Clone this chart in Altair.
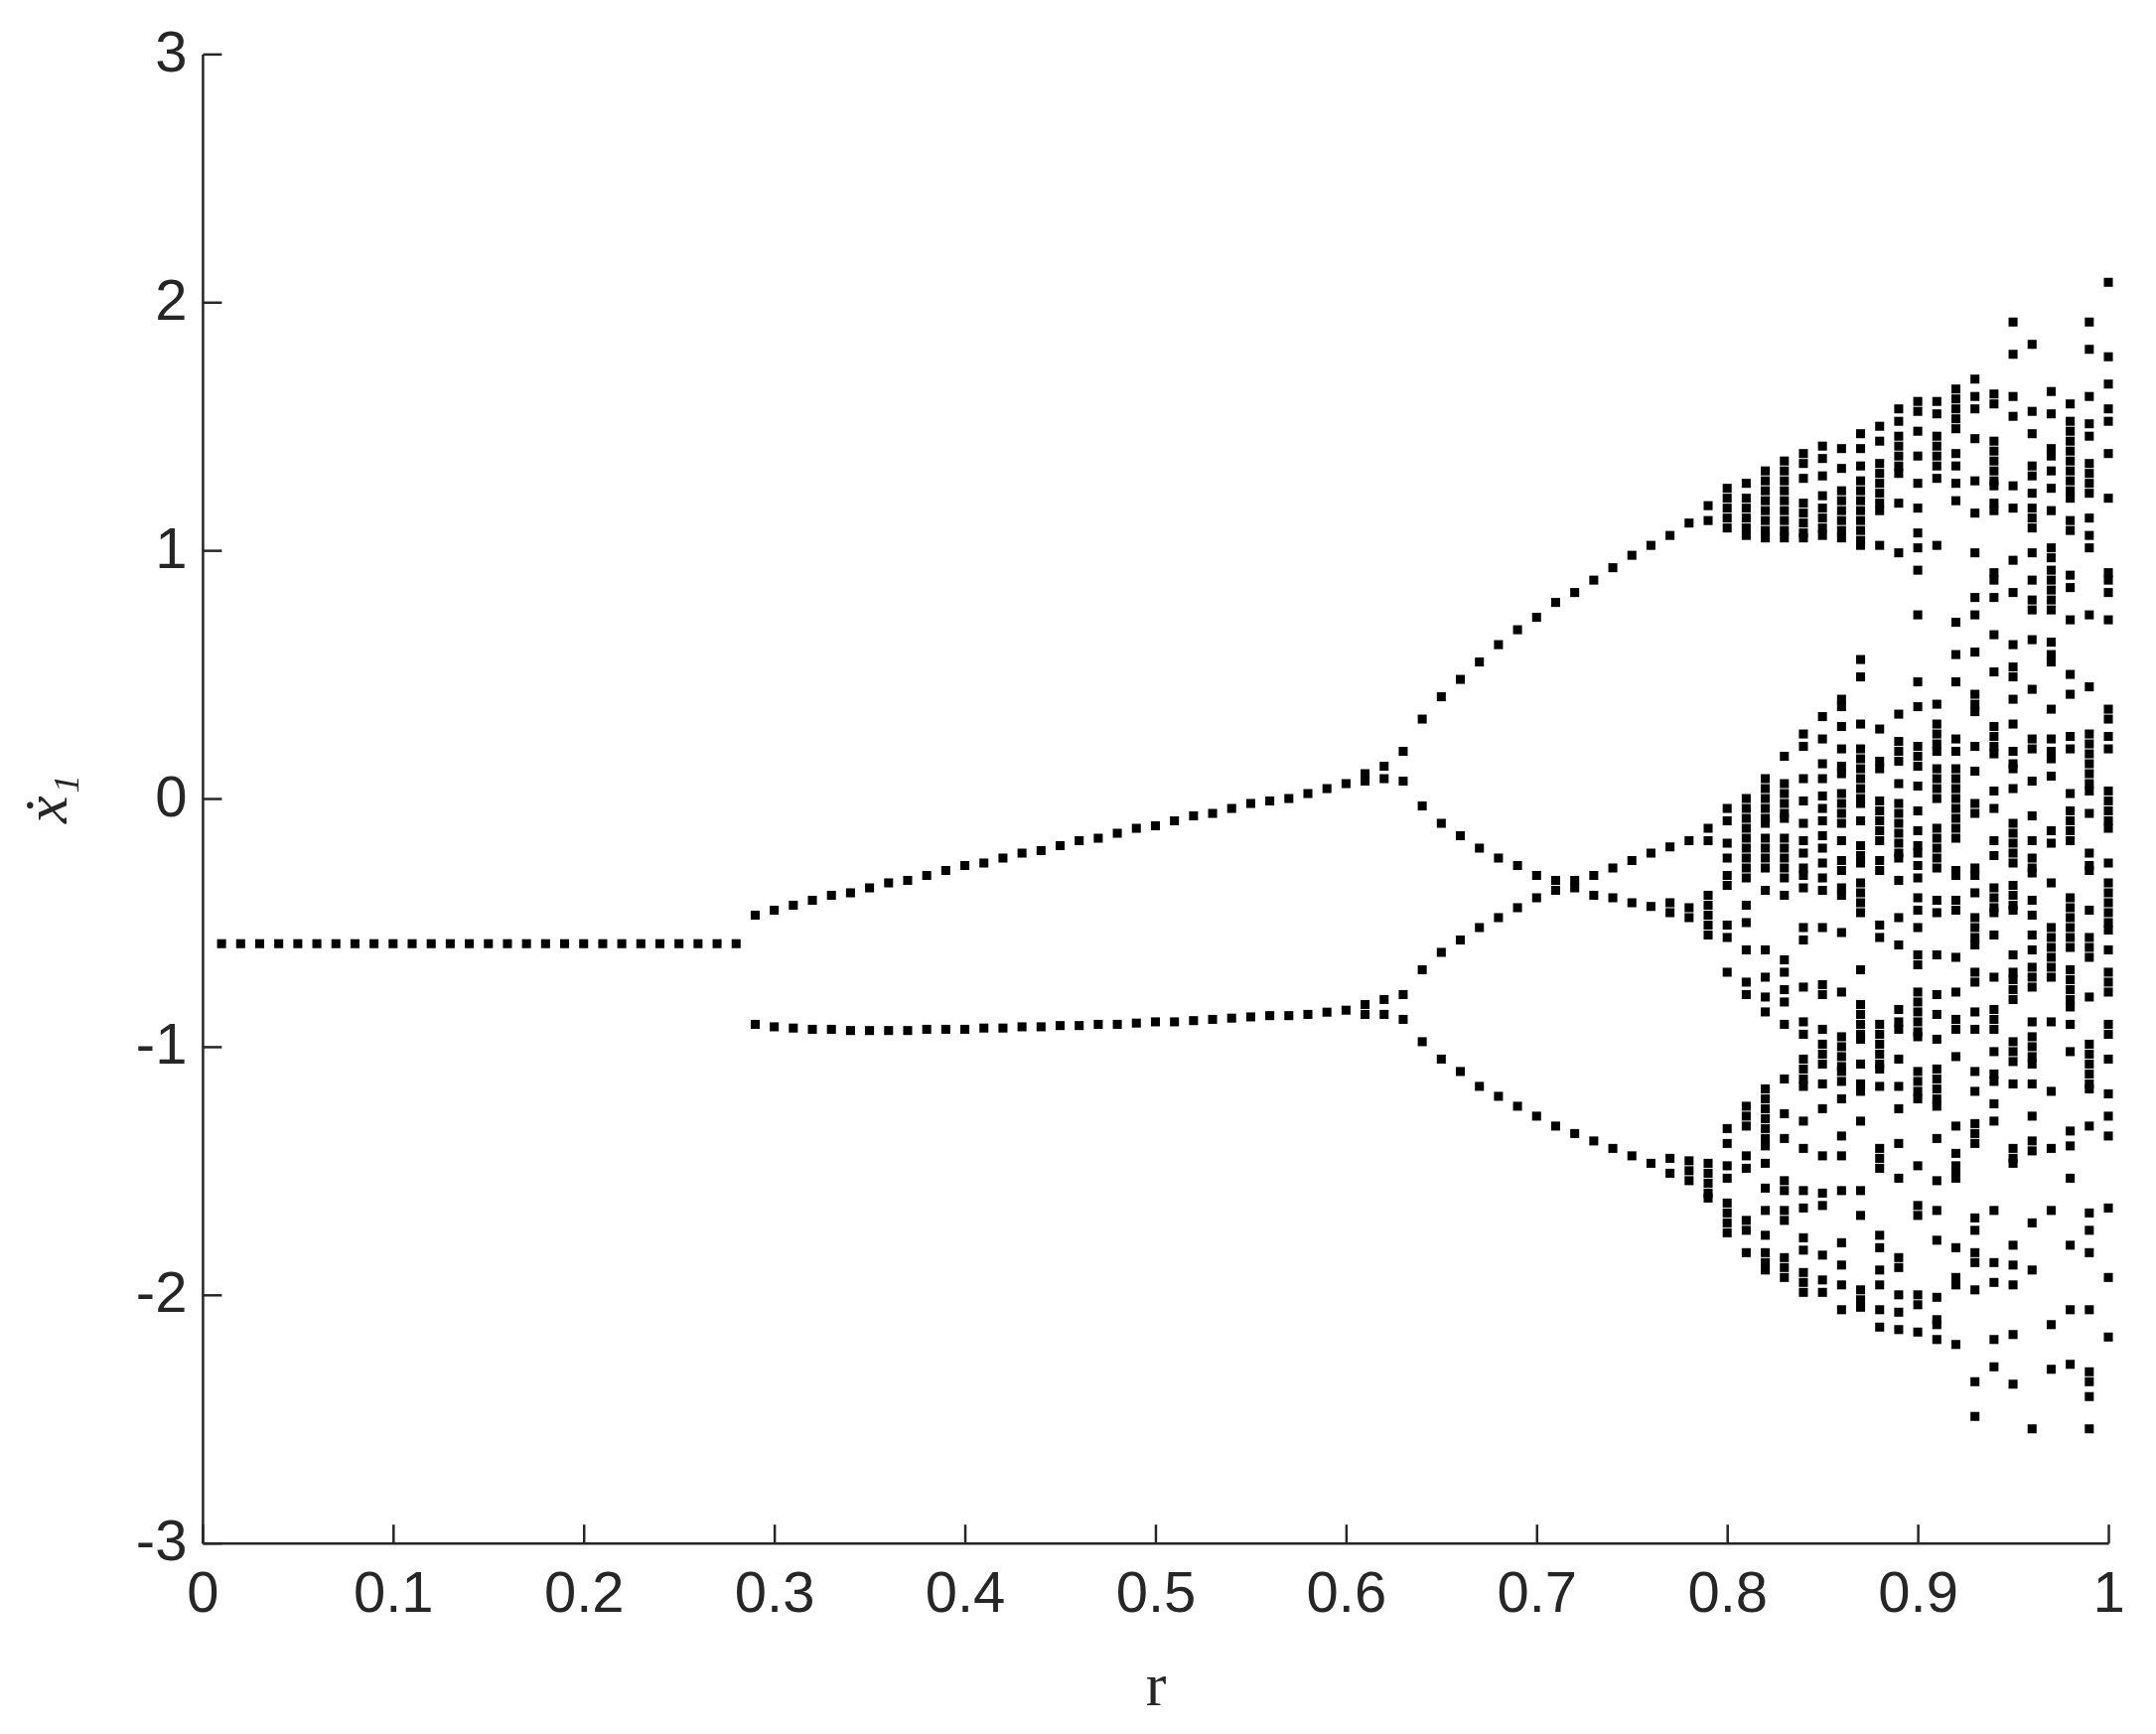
import altair as alt
import pandas as pd

# ---------------- data ----------------
# period-1 region
r_period1 = [0.01, 0.02, 0.03, 0.04, 0.05, 0.06, 0.07, 0.08, 0.09, 0.10,
             0.11, 0.12, 0.13, 0.14, 0.15, 0.16, 0.17, 0.18, 0.19, 0.20,
             0.21, 0.22, 0.23, 0.24, 0.25, 0.26, 0.27, 0.28]
x1_period1 = [-0.585, -0.585, -0.585, -0.585, -0.585, -0.585, -0.585, -0.585, -0.585, -0.585,
              -0.585, -0.585, -0.585, -0.585, -0.585, -0.585, -0.585, -0.585, -0.585, -0.585,
              -0.585, -0.585, -0.585, -0.585, -0.585, -0.585, -0.585, -0.585]

# period-2 region
r_period2 = [0.29, 0.30, 0.31, 0.32, 0.33, 0.34, 0.35, 0.36, 0.37, 0.38,
             0.39, 0.40, 0.41, 0.42, 0.43, 0.44, 0.45, 0.46, 0.47, 0.48,
             0.49, 0.50, 0.51, 0.52, 0.53, 0.54, 0.55, 0.56, 0.57, 0.58,
             0.59, 0.60]
x1_period2_upper = [-0.47, -0.45, -0.43, -0.41, -0.39, -0.38, -0.36, -0.34, -0.33, -0.31,
                    -0.29, -0.27, -0.26, -0.24, -0.22, -0.21, -0.19, -0.17, -0.16, -0.14,
                    -0.12, -0.11, -0.09, -0.07, -0.06, -0.04, -0.02, -0.01, 0.00, 0.02,
                    0.04, 0.06]
x1_period2_lower = [-0.91, -0.92, -0.925, -0.93, -0.93, -0.935, -0.935, -0.935, -0.935, -0.93,
                    -0.93, -0.93, -0.925, -0.925, -0.92, -0.92, -0.915, -0.915, -0.91, -0.91,
                    -0.905, -0.90, -0.90, -0.895, -0.89, -0.885, -0.88, -0.875, -0.875, -0.87,
                    -0.861, -0.853]

# period-4 and chaotic region: one list of x1-dot values per r column
r_columns = [0.61, 0.62, 0.63, 0.64, 0.65, 0.66, 0.67, 0.68, 0.69, 0.70,
             0.71, 0.72, 0.73, 0.74, 0.75, 0.76, 0.77, 0.78, 0.79, 0.80,
             0.81, 0.82, 0.83, 0.84, 0.85, 0.86, 0.87, 0.88, 0.89, 0.90,
             0.91, 0.92, 0.93, 0.94, 0.95, 0.96, 0.97, 0.98, 0.99, 1.00]
x1_columns = [
    [0.07, 0.10, -0.83, -0.87],
    [0.08, 0.13, -0.81, -0.87],
    [0.19, 0.07, -0.79, -0.89],
    [0.32, -0.03, -0.69, -0.98],
    [0.41, -0.10, -0.62, -1.05],
    [0.48, -0.15, -0.57, -1.10],
    [0.55, -0.20, -0.52, -1.16],
    [0.62, -0.24, -0.48, -1.20],
    [0.68, -0.27, -0.44, -1.24],
    [0.73, -0.31, -0.40, -1.28],
    [0.79, -0.33, -0.37, -1.32],
    [0.83, -0.33, -0.36, -1.35],
    [0.88, -0.31, -0.39, -1.38],
    [0.93, -0.28, -0.40, -1.41],
    [0.98, -0.25, -0.42, -1.44],
    [1.02, -0.22, -0.435, -1.47],
    [1.06, -0.195, -0.42, -0.46, -1.45, -1.51],
    [1.11, -0.17, -0.44, -0.48, -1.46, -1.50, -1.54],
    [1.18, 1.12, -0.12, -0.17, -0.39, -0.43, -0.47, -0.51, -0.55,
     -1.47, -1.51, -1.55, -1.59, -1.61],
    # 0.80
    [1.25, 1.21, 1.17, 1.13, 1.09, -0.04, -0.09, -0.18, -0.24, -0.31, -0.35,
     -0.51, -0.56, -0.70, -1.33, -1.39, -1.48, -1.53, -1.63, -1.67, -1.71, -1.75],
    # 0.81
    [1.27, 1.21, 1.17, 1.13, 1.09, 1.06, 0.00, -0.04, -0.08, -0.12, -0.16, -0.20,
     -0.24, -0.28, -0.32, -0.43, -0.50, -0.61, -0.74, -0.79, -1.24, -1.28, -1.32,
     -1.44, -1.49, -1.70, -1.74, -1.83],
    # 0.82
    [1.32, 1.28, 1.24, 1.20, 1.16, 1.12, 1.08, 1.05, 0.08, 0.04, 0.00, -0.04,
     -0.08, -0.10, -0.16, -0.20, -0.24, -0.28, -0.37, -0.61, -0.72, -0.80, -0.86,
     -1.17, -1.21, -1.25, -1.29, -1.33, -1.37, -1.40, -1.47, -1.57, -1.66, -1.76,
     -1.83, -1.87, -1.90],
    # 0.83
    [1.36, 1.32, 1.28, 1.24, 1.20, 1.16, 1.12, 1.08, 1.05, 0.17, 0.06, 0.02,
     -0.02, -0.06, -0.08, -0.16, -0.20, -0.24, -0.28, -0.32, -0.39, -0.65, -0.70,
     -0.77, -0.82, -0.91, -1.13, -1.27, -1.37, -1.54, -1.58, -1.66, -1.70, -1.85,
     -1.89, -1.93],
    # 0.84
    [1.39, 1.35, 1.29, 1.19, 1.15, 1.11, 1.07, 1.05, 0.26, 0.21, 0.08, -0.01,
     -0.10, -0.17, -0.22, -0.28, -0.31, -0.36, -0.52, -0.57, -0.76, -0.90, -0.95,
     -1.05, -1.09, -1.13, -1.16, -1.30, -1.41, -1.58, -1.65, -1.77, -1.82, -1.91,
     -1.95, -1.99],
    # 0.85
    [1.42, 1.37, 1.30, 1.22, 1.17, 1.13, 1.09, 1.06, 0.33, 0.24, 0.14, 0.08,
     0.01, -0.04, -0.09, -0.15, -0.20, -0.26, -0.32, -0.37, -0.52, -0.75, -0.79,
     -0.93, -0.99, -1.03, -1.07, -1.15, -1.25, -1.44, -1.59, -1.64, -1.84, -1.94,
     -1.99],
    # 0.86
    [1.41, 1.33, 1.24, 1.20, 1.16, 1.12, 1.08, 1.05, 0.40, 0.37, 0.29, 0.20,
     0.13, 0.10, 0.02, -0.02, -0.06, -0.10, -0.17, -0.25, -0.29, -0.36, -0.39,
     -0.54, -0.78, -0.96, -1.00, -1.04, -1.08, -1.10, -1.14, -1.21, -1.36, -1.44,
     -1.58, -1.79, -1.88, -1.96, -2.06],
    # 0.87
    [1.47, 1.41, 1.34, 1.28, 1.24, 1.20, 1.16, 1.12, 1.08, 1.04, 1.02, 0.56,
     0.49, 0.30, 0.20, 0.16, 0.12, 0.08, 0.04, 0.00, -0.02, -0.09, -0.19, -0.23,
     -0.26, -0.34, -0.38, -0.42, -0.46, -0.69, -0.83, -0.87, -0.91, -0.95, -0.97,
     -1.07, -1.15, -1.18, -1.30, -1.58, -1.68, -1.98, -2.02, -2.05],
    # 0.88
    [1.50, 1.44, 1.35, 1.31, 1.27, 1.23, 1.19, 1.16, 1.02, 0.28, 0.15, 0.12,
     -0.01, -0.05, -0.09, -0.13, -0.17, -0.25, -0.29, -0.51, -0.56, -0.91, -0.95,
     -0.99, -1.03, -1.07, -1.09, -1.16, -1.41, -1.45, -1.49, -1.76, -1.81, -1.90,
     -1.96, -2.06, -2.13],
    # 0.89
    [1.57, 1.52, 1.46, 1.42, 1.38, 1.34, 1.31, 1.19, 0.99, 0.34, 0.23, 0.19,
     0.15, 0.06, -0.02, -0.06, -0.10, -0.14, -0.18, -0.22, -0.24, -0.33, -0.48,
     -0.59, -0.85, -0.90, -0.93, -1.05, -1.16, -1.25, -1.39, -1.53, -1.85, -1.89,
     -2.00, -2.07, -2.14],
    # 0.90
    [1.60, 1.56, 1.48, 1.38, 1.27, 1.17, 1.07, 1.01, 0.92, 0.74, 0.47, 0.37,
     0.21, 0.17, 0.13, 0.05, -0.05, -0.13, -0.19, -0.22, -0.27, -0.32, -0.40,
     -0.45, -0.52, -0.63, -0.67, -0.78, -0.82, -0.86, -0.90, -0.94, -0.96, -1.10,
     -1.14, -1.18, -1.21, -1.48, -1.64, -1.68, -2.00, -2.04, -2.15],
    # 0.91
    [1.60, 1.55, 1.46, 1.42, 1.38, 1.34, 1.29, 1.02, 0.38, 0.30, 0.26, 0.22,
     0.19, 0.12, 0.08, 0.04, 0.00, -0.12, -0.16, -0.20, -0.24, -0.28, -0.41,
     -0.46, -0.63, -0.79, -0.87, -0.97, -1.09, -1.13, -1.17, -1.21, -1.24, -1.37,
     -1.54, -1.66, -1.78, -2.01, -2.10, -2.12, -2.18],
    # 0.92
    [1.65, 1.61, 1.57, 1.53, 1.49, 1.39, 1.34, 1.27, 1.20, 0.71, 0.58, 0.47,
     0.24, 0.19, 0.12, 0.08, 0.04, 0.00, -0.04, -0.08, -0.12, -0.16, -0.29,
     -0.31, -0.41, -0.45, -0.64, -0.78, -0.89, -0.93, -1.04, -1.32, -1.43, -1.48,
     -1.51, -1.53, -1.81, -1.93, -1.96, -2.20],
    # 0.93
    [1.69, 1.62, 1.57, 1.45, 1.28, 1.15, 0.99, 0.81, 0.74, 0.59, 0.42, 0.38,
     0.35, 0.21, 0.11, -0.02, -0.06, -0.28, -0.31, -0.38, -0.48, -0.52, -0.56,
     -0.59, -0.70, -0.74, -0.86, -0.93, -1.10, -1.18, -1.31, -1.35, -1.39, -1.69,
     -1.74, -1.83, -1.87, -1.98, -2.35, -2.49],
    # 0.94
    [1.63, 1.59, 1.44, 1.40, 1.36, 1.32, 1.28, 1.26, 1.19, 1.16, 0.91, 0.88,
     0.81, 0.66, 0.51, 0.29, 0.25, 0.21, 0.18, 0.03, -0.04, -0.17, -0.23, -0.36,
     -0.40, -0.44, -0.46, -0.55, -0.72, -0.85, -0.89, -0.93, -1.02, -1.11, -1.14,
     -1.23, -1.30, -1.66, -1.87, -1.95, -2.18, -2.29],
    # 0.95
    [1.92, 1.79, 1.62, 1.54, 1.26, 1.17, 0.96, 0.83, 0.62, 0.53, 0.49, 0.40,
     0.30, 0.19, 0.14, 0.12, 0.04, -0.10, -0.14, -0.18, -0.22, -0.26, -0.35,
     -0.39, -0.43, -0.45, -0.63, -0.70, -0.73, -0.77, -0.81, -0.98, -1.02, -1.06,
     -1.15, -1.41, -1.45, -1.47, -1.80, -1.88, -1.96, -2.16, -2.36],
    # 0.96
    [1.83, 1.56, 1.47, 1.34, 1.30, 1.23, 1.17, 1.13, 1.09, 0.99, 0.88, 0.80,
     0.76, 0.64, 0.44, 0.24, 0.20, 0.07, -0.07, -0.17, -0.24, -0.28, -0.30,
     -0.41, -0.47, -0.55, -0.61, -0.68, -0.72, -0.76, -0.90, -0.96, -1.00, -1.04,
     -1.07, -1.15, -1.28, -1.38, -1.42, -1.71, -1.90, -2.54],
    # 0.97
    [1.64, 1.55, 1.41, 1.38, 1.32, 1.25, 1.16, 1.01, 0.97, 0.92, 0.88, 0.84,
     0.80, 0.76, 0.63, 0.58, 0.55, 0.36, 0.24, 0.19, 0.16, 0.09, -0.13, -0.18,
     -0.34, -0.52, -0.56, -0.60, -0.64, -0.68, -0.72, -0.90, -1.18, -1.41, -1.66,
     -2.12, -2.30],
    # 0.98
    [1.59, 1.52, 1.48, 1.44, 1.40, 1.36, 1.32, 1.28, 1.24, 1.21, 1.12, 1.08,
     0.90, 0.85, 0.72, 0.50, 0.42, 0.25, 0.20, 0.02, -0.05, -0.09, -0.13, -0.17,
     -0.40, -0.44, -0.48, -0.52, -0.56, -0.60, -0.69, -0.73, -0.77, -0.81, -0.84,
     -0.91, -1.02, -1.34, -1.40, -1.53, -1.80, -2.06, -2.28],
    # 0.99
    [1.92, 1.81, 1.62, 1.51, 1.46, 1.35, 1.31, 1.27, 1.23, 1.13, 1.06, 1.01,
     0.74, 0.45, 0.26, 0.22, 0.18, 0.14, 0.10, 0.06, 0.03, -0.06, -0.22, -0.27,
     -0.29, -0.45, -0.56, -0.60, -0.64, -0.80, -0.99, -1.03, -1.07, -1.11, -1.15,
     -1.17, -1.32, -1.67, -1.74, -1.83, -2.06, -2.31, -2.35, -2.41, -2.54],
    # 1.00
    [2.08, 1.78, 1.67, 1.57, 1.52, 1.39, 1.21, 0.91, 0.88, 0.83, 0.72, 0.36,
     0.32, 0.25, 0.20, 0.03, -0.01, -0.05, -0.09, -0.12, -0.26, -0.34, -0.38,
     -0.42, -0.46, -0.50, -0.53, -0.61, -0.70, -0.74, -0.78, -0.91, -0.95, -1.05,
     -1.19, -1.28, -1.36, -1.65, -1.93, -2.17],
]

x_tick_values = [0, 0.1, 0.2, 0.3, 0.4, 0.5, 0.6, 0.7, 0.8, 0.9, 1]
y_tick_values = [-3, -2, -1, 0, 1, 2, 3]

# ---------------- table ----------------
rows = []
for r, v in zip(r_period1, x1_period1):
    rows.append({"r": r, "x1dot": v})
for r, vu, vl in zip(r_period2, x1_period2_upper, x1_period2_lower):
    rows.append({"r": r, "x1dot": vu})
    rows.append({"r": r, "x1dot": vl})
for r, vals in zip(r_columns, x1_columns):
    for v in vals:
        rows.append({"r": r, "x1dot": v})
df = pd.DataFrame(rows)

AX = "#262626"
LABEL_FONT = "Liberation Sans"
TITLE_FONT = "Liberation Serif"
W, H = 1920, 1500

x_scale = alt.Scale(domain=[0, 1], nice=False, zero=False)
y_scale = alt.Scale(domain=[-3, 3], nice=False, zero=False)

label_expr = "datum.value < 0 ? '-' + format(-datum.value, '~g') : format(datum.value, '~g')"

base = alt.Chart(df)

points = base.mark_square(size=82, color="black", opacity=1).encode(
    x=alt.X("r:Q", scale=x_scale,
            axis=alt.Axis(orient="bottom", values=x_tick_values, labelExpr=label_expr,
                          grid=False, ticks=False, domain=True, domainColor=AX,
                          domainWidth=2.5, labelFont=LABEL_FONT, labelFontSize=58,
                          labelColor=AX, labelPadding=52, labelBaseline="middle",
                          labelFlush=False, labelOverlap=False,
                          title="r", titleFont=TITLE_FONT, titleFontSize=62,
                          titleFontWeight="normal", titleColor=AX,
                          titleX=W / 2, titleY=144, titleBaseline="middle",
                          titleAlign="center")),
    y=alt.Y("x1dot:Q", scale=y_scale,
            axis=alt.Axis(orient="left", values=y_tick_values, labelExpr=label_expr,
                          grid=False, ticks=False, domain=True, domainColor=AX,
                          domainWidth=2.5, labelFont=LABEL_FONT, labelFontSize=58,
                          labelColor=AX, labelPadding=16, labelBaseline="middle",
                          labelFlush=False, labelOverlap=False,
                          title="ẋ₁", titleFont=TITLE_FONT, titleFontSize=62,
                          titleFontStyle="italic", titleFontWeight="normal",
                          titleColor=AX, titleAngle=-90, titleX=-156, titleY=H / 2,
                          titleBaseline="middle", titleAlign="center")),
)

# inward-pointing tick marks (MATLAB style)
inner_ticks = base.mark_point(opacity=0).encode(
    x=alt.X("r:Q", scale=x_scale,
            axis=alt.Axis(orient="top", offset=-H, values=x_tick_values, labels=False,
                          domain=False, grid=False, ticks=True, tickSize=19,
                          tickWidth=2.5, tickColor=AX, title=None)),
    y=alt.Y("x1dot:Q", scale=y_scale,
            axis=alt.Axis(orient="right", offset=-W, values=y_tick_values, labels=False,
                          domain=False, grid=False, ticks=True, tickSize=19,
                          tickWidth=2.5, tickColor=AX, title=None)),
)

chart = (
    alt.layer(points, inner_ticks)
    .resolve_axis(x="independent", y="independent")
    .properties(
        width=W, height=H,
        autosize=alt.AutoSizeParams(type="none"),
        padding={"left": 196, "top": 46, "right": 40, "bottom": 180},
        background="white",
    )
    .configure_view(stroke=None)
)

chart.save("out.html", embed_options={"renderer": "svg", "actions": False})
